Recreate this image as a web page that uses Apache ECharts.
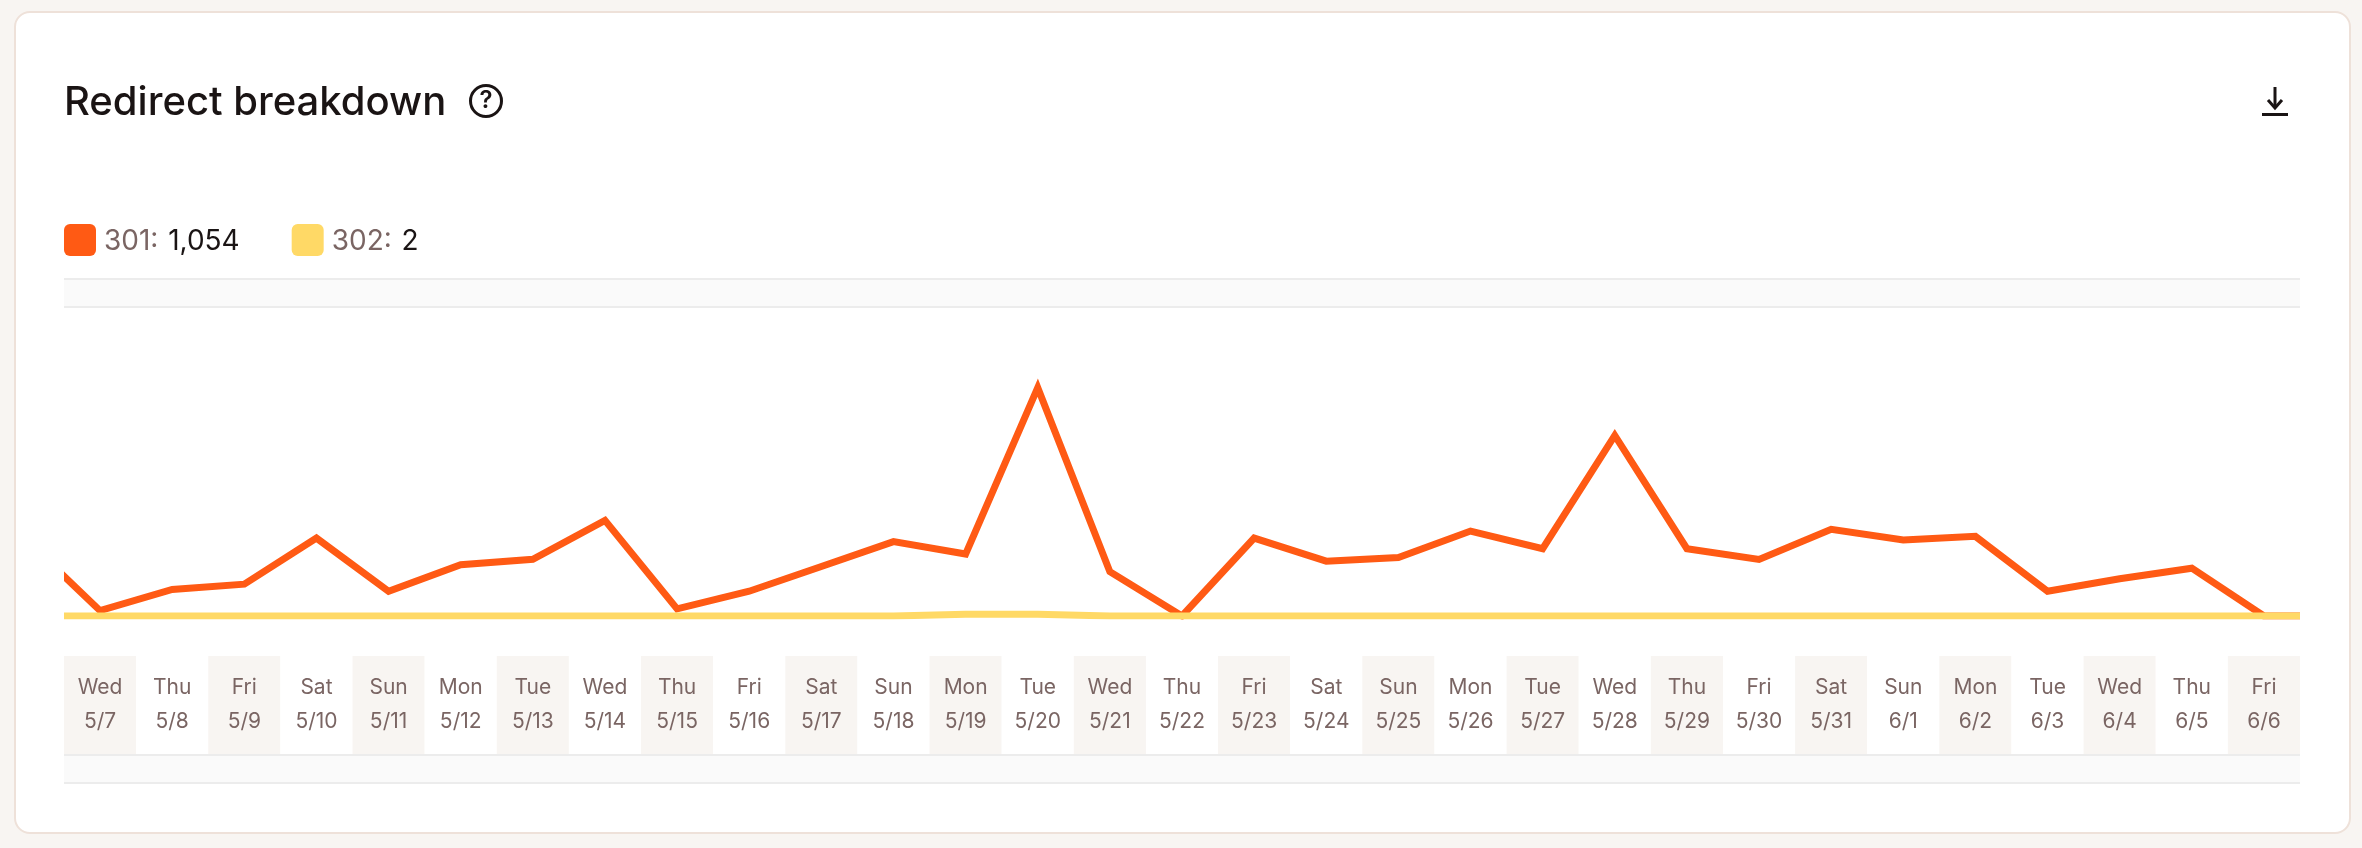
<!DOCTYPE html>
<html>
<head>
<meta charset="utf-8">
<title>Redirect breakdown</title>
<script src="https://cdn.jsdelivr.net/npm/echarts@6/dist/echarts.min.js"></script>
<style>
html, body { margin: 0; padding: 0; width: 2362px; height: 848px; background: #f8f5f2; overflow: hidden; }
#card { position: absolute; left: 14px; top: 11px; width: 2333px; height: 819px; background: #fff; border: 2px solid #eee1d9; border-radius: 16px; }
#main { position: absolute; left: 0; top: 0; width: 2362px; height: 848px; }
</style>
</head>
<body>
<div id="card"></div>
<div id="main"></div>
<script>
var weekdays = ['Wed','Thu','Fri','Sat','Sun','Mon','Tue','Wed','Thu','Fri','Sat','Sun','Mon','Tue','Wed','Thu','Fri','Sat','Sun','Mon','Tue','Wed','Thu','Fri','Sat','Sun','Mon','Tue','Wed','Thu','Fri'];
var dates = ['5/7','5/8','5/9','5/10','5/11','5/12','5/13','5/14','5/15','5/16','5/17','5/18','5/19','5/20','5/21','5/22','5/23','5/24','5/25','5/26','5/27','5/28','5/29','5/30','5/31','6/1','6/2','6/3','6/4','6/5','6/6'];
var values301 = [3,15,18,44,14,29,32,54,4,14,28,42,35,129,25,0,44,31,33,48,38,102,38,32,49,43,45,14,21,27,0];
var values302 = [0,0,0,0,0,0,0,0,0,0,0,0,1,1,0,0,0,0,0,0,0,0,0,0,0,0,0,0,0,0,0];
// the day before and after the range, the lines run off the plot edges
var before301 = 42, after301 = 0, before302 = 0, after302 = 0;
var total301 = '1,054', total302 = '2';

var FONT = 'Inter';
var INK = '#1a1414', MUTED = '#7a6563';
var ORANGE = '#ff5a14', YELLOW = '#ffd966';

function withEdges(values, before, after) {
	var pts = [[-1, before]];
	values.forEach(function (v, i) { pts.push([i, v]); });
	pts.push([values.length, after]);
	return pts;
}

var myChart = echarts.init(document.getElementById('main'), null, { renderer: 'canvas' });

var option = {
	animation: false,
	textStyle: { fontFamily: FONT },
	title: {
		text: 'Redirect breakdown',
		left: 64, top: 81, padding: 0,
		textStyle: { fontFamily: FONT, fontSize: 40, fontWeight: 500, color: INK, lineHeight: 44 }
	},
	legend: {
		left: 64, top: 224,
		padding: 0,
		itemWidth: 32, itemHeight: 32, itemGap: 52,
		selectedMode: false,
		icon: 'path://M6 0H26A6 6 0 0 1 32 6V26A6 6 0 0 1 26 32H6A6 6 0 0 1 0 26V6A6 6 0 0 1 6 0Z',
		data: ['301', '302'],
		formatter: function (name) {
			return '{k|' + name + ':}  {v|' + (name === '301' ? total301 : total302) + '}';
		},
		textStyle: {
			fontFamily: FONT,
			padding: [3, 0, 0, 3],
			rich: {
				k: { fontFamily: FONT, fontSize: 28, color: MUTED },
				v: { fontFamily: FONT, fontSize: 28, color: INK, padding: [0, 0, 0, 3] }
			}
		}
	},
	grid: [
		{ left: 64, width: 2236, top: 308, height: 308 },
		{ left: 64, width: 2236, top: 656, height: 98 }
	],
	xAxis: [
		{ gridIndex: 0, type: 'value', min: -0.5, max: 30.5, show: false },
		{
			gridIndex: 1, type: 'category', position: 'bottom', boundaryGap: true,
			data: weekdays.map(function (d, i) { return d + '\n' + dates[i]; }),
			axisLine: { show: false },
			axisTick: { show: false },
			axisLabel: { inside: true, interval: 0, margin: 15, fontFamily: FONT, fontSize: 21, lineHeight: 34, color: MUTED },
			splitLine: { show: false },
			splitArea: { show: true, interval: 0, areaStyle: { color: ['#f8f5f2', '#ffffff'] } }
		}
	],
	yAxis: [
		{ gridIndex: 0, type: 'value', min: 0, max: 174, show: false },
		{ gridIndex: 1, type: 'value', min: 0, max: 1, show: false }
	],
	series: [
		{
			name: '301', type: 'line', xAxisIndex: 0, yAxisIndex: 0, z: 3,
			data: withEdges(values301, before301, after301),
			symbol: 'none', itemStyle: { color: ORANGE },
			lineStyle: { color: ORANGE, width: 7, join: 'miter', miterLimit: 6 }
		},
		{
			name: '302', type: 'line', xAxisIndex: 0, yAxisIndex: 0, z: 4,
			data: withEdges(values302, before302, after302),
			symbol: 'none', itemStyle: { color: YELLOW },
			lineStyle: { color: YELLOW, width: 7 }
		}
	],
	graphic: [
		// plain strips above and below the plot
		{ type: 'rect', z: -1, shape: { x: 64, y: 278, width: 2236, height: 30 }, style: { fill: '#fafafa' } },
		{ type: 'rect', z: -1, shape: { x: 64, y: 278, width: 2236, height: 2 }, style: { fill: '#ececec' } },
		{ type: 'rect', z: -1, shape: { x: 64, y: 306, width: 2236, height: 2 }, style: { fill: '#ececec' } },
		{ type: 'rect', z: -1, shape: { x: 64, y: 754, width: 2236, height: 30 }, style: { fill: '#fafafa' } },
		{ type: 'rect', z: -1, shape: { x: 64, y: 754, width: 2236, height: 2 }, style: { fill: '#ececec' } },
		{ type: 'rect', z: -1, shape: { x: 64, y: 782, width: 2236, height: 2 }, style: { fill: '#ececec' } },
		// echarts widens the clip by half a line width, cover that at the edges
		{ type: 'rect', z: 100, shape: { x: 56, y: 560, width: 8, height: 70 }, style: { fill: '#fff' } },
		{ type: 'rect', z: 100, shape: { x: 2300, y: 560, width: 8, height: 70 }, style: { fill: '#fff' } },
		// help icon
		{ type: 'circle', z: 100, shape: { cx: 486, cy: 101, r: 15.5 }, style: { fill: 'none', stroke: INK, lineWidth: 3 } },
		{ type: 'text', z: 100, x: 486, y: 101, style: { text: '?', font: '600 24px Inter', fill: INK, align: 'center', verticalAlign: 'middle' } },
		// download icon
		{ type: 'polyline', z: 100, shape: { points: [[2275, 87], [2275, 107]] }, style: { stroke: INK, lineWidth: 3, fill: 'none' } },
		{ type: 'polyline', z: 100, shape: { points: [[2268, 100], [2275, 108], [2282, 100]] }, style: { stroke: INK, lineWidth: 3, fill: 'none' } },
		{ type: 'rect', z: 100, shape: { x: 2262, y: 113, width: 26, height: 3 }, style: { fill: INK } }
	]
};
myChart.setOption(option);
</script>
</body>
</html>
